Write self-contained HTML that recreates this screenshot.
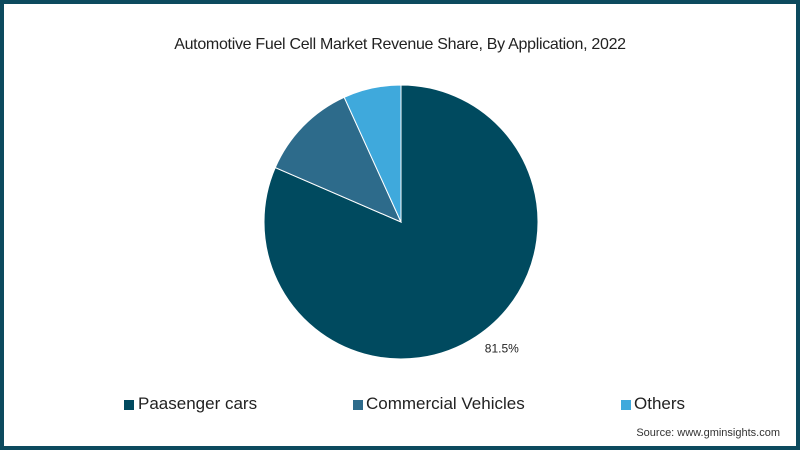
<!DOCTYPE html>
<html><head><meta charset="utf-8"><style>
body{margin:0;width:800px;height:450px;overflow:hidden;background:#fff;font-family:"Liberation Sans",sans-serif}
#frame{position:absolute;left:0;top:0;width:792px;height:442px;border:4px solid #0d4a5e;background:#fff}
.t{position:absolute;white-space:nowrap;color:#222}
.sq{position:absolute;width:10px;height:10px}
</style></head><body>
<div id="frame"></div>
<div class="t" style="left:0;width:800px;text-align:center;top:36px;font-size:16px;letter-spacing:-0.3px">Automotive Fuel Cell Market Revenue Share, By Application, 2022</div>
<svg id="pie" width="800" height="450" style="position:absolute;left:0;top:0"></svg>
<div class="sq" style="left:124px;top:400px;background:#004a5f"></div>
<div class="t" style="left:138px;top:394px;font-size:17px">Paasenger cars</div>
<div class="sq" style="left:353px;top:400px;background:#2d6b8b"></div>
<div class="t" style="left:366px;top:394px;font-size:17px">Commercial Vehicles</div>
<div class="sq" style="left:621px;top:400px;background:#3fa9dc"></div>
<div class="t" style="left:634px;top:394px;font-size:17px">Others</div>
<div class="t" style="right:20px;top:427px;font-size:11px;color:#333">Source: www.gminsights.com</div>
<script>
const categories=["Paasenger cars","Commercial Vehicles","Others"];
const shares=[81.5,11.7,6.8];
const colors=["#004a5f","#2d6b8b","#3fa9dc"];
const svg=document.getElementById('pie');
const cx=401,cy=222,r=137,NS="http://www.w3.org/2000/svg";
const total=shares.reduce((a,b)=>a+b,0);
let a0=0;
shares.forEach((v,i)=>{
  const a1=a0+v/total*2*Math.PI;
  const x0=cx+r*Math.sin(a0),y0=cy-r*Math.cos(a0),x1=cx+r*Math.sin(a1),y1=cy-r*Math.cos(a1);
  const p=document.createElementNS(NS,'path');
  p.setAttribute('d',`M${cx},${cy}L${x0},${y0}A${r},${r} 0 ${a1-a0>Math.PI?1:0} 1 ${x1},${y1}Z`);
  p.setAttribute('fill',colors[i]);p.setAttribute('stroke','#fff');p.setAttribute('stroke-width','1');
  
  
  svg.appendChild(p);
  if(i===0){
    const t=document.createElementNS(NS,'text');
    const am=(a0+a1)/2, lr=r+12;
    t.setAttribute('x',cx+lr*Math.sin(am)+2);t.setAttribute('y',cy-lr*Math.cos(am)+6);
    t.setAttribute('font-size','12');t.setAttribute('fill','#222');t.setAttribute('font-family','Liberation Sans, sans-serif');
    t.textContent=v+'%';
    
    
    svg.appendChild(t);
  }
  a0=a1;
});
</script>
</body></html>
